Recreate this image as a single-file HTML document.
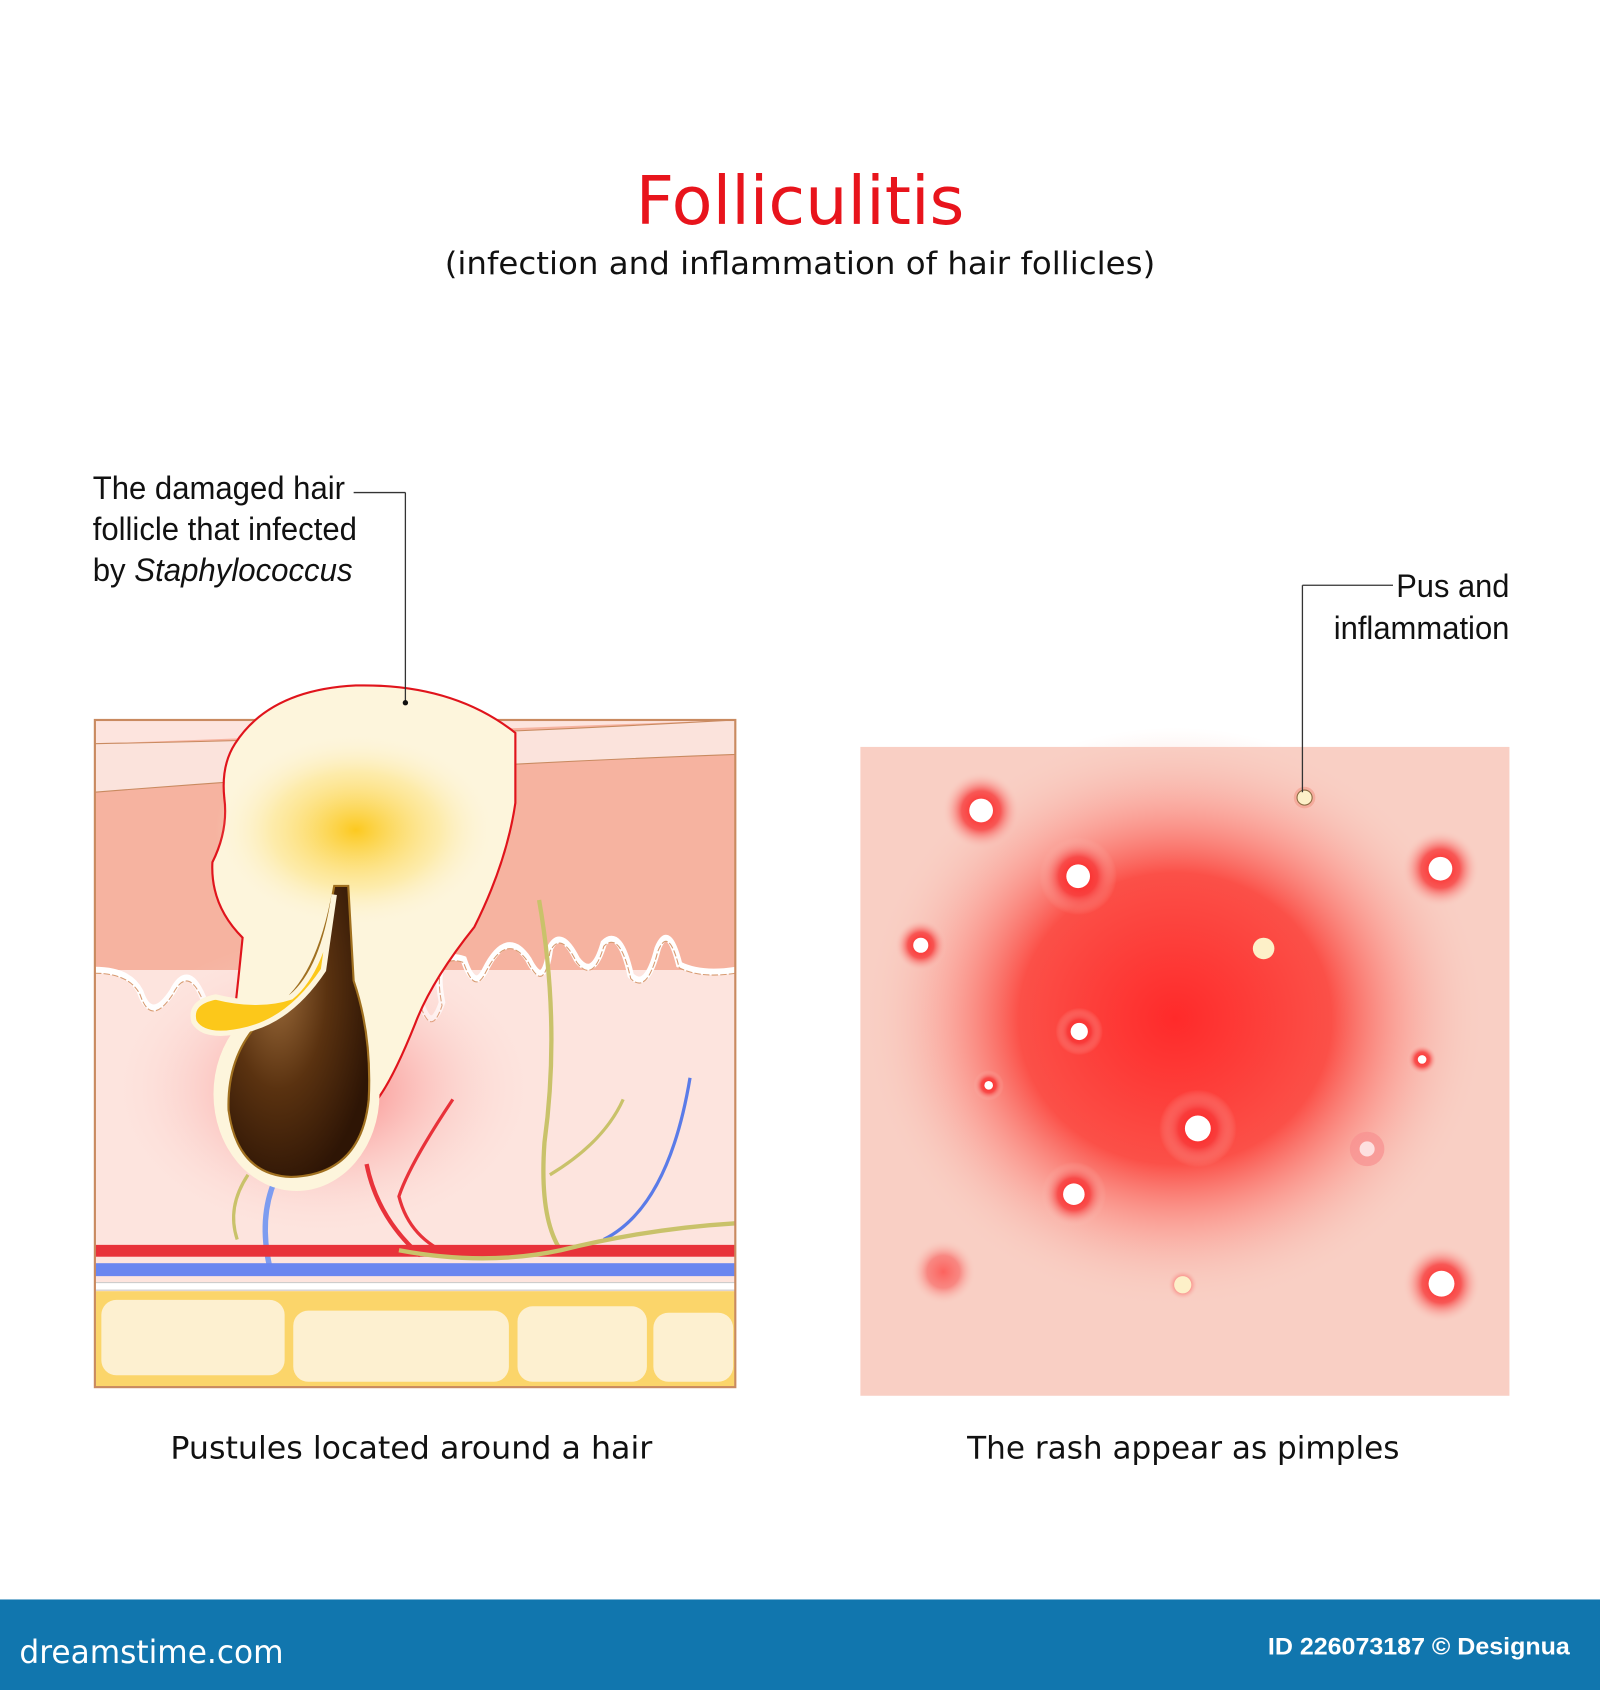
<!DOCTYPE html>
<html><head><meta charset="utf-8"><style>
html,body{margin:0;padding:0;background:#fff;width:1600px;height:1690px;overflow:hidden}
svg{display:block}
</style></head><body>
<svg width="1600" height="1690" viewBox="0 0 1484 1568" preserveAspectRatio="none" xmlns="http://www.w3.org/2000/svg">
<defs>
<radialGradient id="rg" cx="0.5" cy="0.5" r="0.5">
<stop offset="0" stop-color="#ff2a2a"/><stop offset="0.5" stop-color="#fb5048"/><stop offset="1" stop-color="#f9cfc4" stop-opacity="0"/></radialGradient>
<radialGradient id="pim" cx="0.5" cy="0.5" r="0.5">
<stop offset="0" stop-color="#ff1a1a"/><stop offset="0.5" stop-color="#f83a3a" stop-opacity="0.8"/><stop offset="1" stop-color="#f9cfc4" stop-opacity="0"/></radialGradient>
<radialGradient id="yel" cx="0.5" cy="0.5" r="0.5">
<stop offset="0" stop-color="#fcc91f"/><stop offset="0.6" stop-color="#fde58a" stop-opacity="0.6"/><stop offset="1" stop-color="#fdf5dc" stop-opacity="0"/></radialGradient>
<radialGradient id="redglow" cx="0.5" cy="0.5" r="0.5">
<stop offset="0" stop-color="#f76060"/><stop offset="1" stop-color="#fde4de" stop-opacity="0"/></radialGradient>
<radialGradient id="bulb" cx="0.35" cy="0.35" r="0.7">
<stop offset="0" stop-color="#9a6a3a"/><stop offset="0.5" stop-color="#5a3210"/><stop offset="1" stop-color="#2e1505"/></radialGradient>
</defs>

<text x="742" y="208" text-anchor="middle" font-family="DejaVu Sans, sans-serif" font-size="62" fill="#e8141c" textLength="305" lengthAdjust="spacingAndGlyphs">Folliculitis</text>
<text x="742" y="254" text-anchor="middle" font-family="DejaVu Sans, sans-serif" font-size="29" fill="#111" textLength="659" lengthAdjust="spacingAndGlyphs">(infection and inflammation of hair follicles)</text>

<!-- LEFT PANEL -->
<rect x="88" y="668" width="594" height="619" fill="#fde4de"/>
<path d="M88 690 L682 668 L682 900 L88 900 Z" fill="#f6b3a0"/>
<path d="M88 690 Q380 685 682 668 L682 700 Q400 710 88 735 Z" fill="#fbe3dc" stroke="#c98a60" stroke-width="1"/>
<path d="M88 900 Q120 900 130 920 Q140 950 160 920 Q175 890 190 930 Q210 960 230 920 Q250 900 260 920 L390 930 Q400 960 410 930 Q400 880 430 890 Q440 920 450 900 Q470 860 490 890 Q505 920 510 880 Q520 860 535 890 Q550 910 560 875 Q575 860 585 905 Q600 920 610 880 Q620 855 630 895 Q650 905 682 900" fill="none" stroke="#fff" stroke-width="6"/>
<path d="M88 900 Q120 900 130 920 Q140 950 160 920 Q175 890 190 930 Q210 960 230 920 Q250 900 260 920 L390 930 Q400 960 410 930 Q400 880 430 890 Q440 920 450 900 Q470 860 490 890 Q505 920 510 880 Q520 860 535 890 Q550 910 560 875 Q575 860 585 905 Q600 920 610 880 Q620 855 630 895 Q650 905 682 900" fill="none" stroke="#d79a70" stroke-width="1" stroke-dasharray="6 2" transform="translate(0,3)"/>
<ellipse cx="300" cy="1010" rx="200" ry="140" fill="url(#redglow)" opacity="0.8"/>
<path d="M255 1095 Q240 1130 250 1175" fill="none" stroke="#7d9cf0" stroke-width="5"/>
<path d="M230 1090 Q210 1120 220 1150" fill="none" stroke="#c9c26a" stroke-width="3"/>
<path d="M340 1080 Q350 1130 390 1165" fill="none" stroke="#e8323a" stroke-width="4"/>
<path d="M420 1020 Q380 1080 370 1110 Q380 1150 420 1165" fill="none" stroke="#e8323a" stroke-width="3"/>
<path d="M500 835 Q520 950 505 1060 Q500 1130 520 1160" fill="none" stroke="#c9c26a" stroke-width="4"/>
<path d="M578 1020 Q560 1060 510 1090" fill="none" stroke="#c9c26a" stroke-width="3"/>
<path d="M640 1000 Q620 1120 560 1150" fill="none" stroke="#5a7be8" stroke-width="3"/>
<rect x="88" y="1155" width="594" height="11" fill="#e8323a"/>
<rect x="88" y="1172" width="594" height="12" fill="#6a86f0"/>
<path d="M370 1160 Q450 1175 520 1160 Q600 1140 682 1135" fill="none" stroke="#c9c26a" stroke-width="4"/>
<rect x="88" y="1190" width="594" height="7" fill="#fff" stroke="#ccc" stroke-width="1"/>
<rect x="88" y="1198" width="594" height="89" fill="#fbd56a"/>
<rect x="94" y="1206" width="170" height="70" rx="14" fill="#fdf0d0"/>
<rect x="272" y="1216" width="200" height="66" rx="14" fill="#fdf0d0"/>
<rect x="480" y="1212" width="120" height="70" rx="14" fill="#fdf0d0"/>
<rect x="606" y="1218" width="74" height="64" rx="14" fill="#fdf0d0"/>
<rect x="88" y="668" width="594" height="619" fill="none" stroke="#c98a60" stroke-width="2"/>
<!-- pustule -->
<path d="M218 690 Q250 640 330 636 Q420 634 478 680 L478 745 Q470 800 440 860 Q400 910 385 950 Q365 1000 350 1020 L280 1040 L212 990 Q220 920 225 870 Q195 840 197 800 Q212 770 208 740 Q205 710 218 690 Z" fill="#fdf5dc" stroke="#e0141c" stroke-width="2"/>
<ellipse cx="330" cy="770" rx="130" ry="90" fill="url(#yel)"/>
<ellipse cx="275" cy="1015" rx="77" ry="90" fill="#fdf5dc"/>
<path d="M323 822 L310 822 Q295 910 255 935 Q210 970 212 1030 Q220 1090 270 1092 Q335 1090 342 1020 Q345 960 328 910 Z" fill="url(#bulb)" stroke="#a07020" stroke-width="2"/>
<path d="M310 830 Q300 900 270 925 Q240 935 200 925 Q175 930 180 948 Q190 965 230 955 Q270 945 300 900 Z" fill="#fcc81a" stroke="#fdf5dc" stroke-width="5"/>
<line x1="376" y1="652" x2="376" y2="457" stroke="#333" stroke-width="1.2"/>
<line x1="376" y1="457" x2="328" y2="457" stroke="#333" stroke-width="1.2"/>
<circle cx="376" cy="652" r="2.5" fill="#111"/>
<g font-family="Liberation Sans, sans-serif" font-size="30" fill="#111" lengthAdjust="spacingAndGlyphs">
<text x="86" y="463" textLength="234" lengthAdjust="spacingAndGlyphs">The damaged hair</text>
<text x="86" y="501" textLength="245" lengthAdjust="spacingAndGlyphs">follicle that infected</text>
<text x="86" y="539" textLength="241" lengthAdjust="spacingAndGlyphs">by <tspan font-style="italic">Staphylococcus</tspan></text>
<text x="1295" y="554" textLength="105" lengthAdjust="spacingAndGlyphs">Pus and</text>
<text x="1237" y="593" textLength="163" lengthAdjust="spacingAndGlyphs">inflammation</text>
</g>

<!-- RIGHT PANEL -->
<rect x="798" y="693" width="602" height="602" fill="#f9cfc4"/>
<ellipse cx="1090" cy="945" rx="290" ry="270" fill="url(#rg)"/>
<g>
<circle cx="910" cy="752" r="36" fill="url(#pim)"/><circle cx="910" cy="752" r="11" fill="#fff"/>
<circle cx="1000" cy="813" r="36" fill="url(#pim)"/><circle cx="1000" cy="813" r="11" fill="#fff"/>
<circle cx="1336" cy="806" r="36" fill="url(#pim)"/><circle cx="1336" cy="806" r="11" fill="#fff"/>
<circle cx="854" cy="877" r="24" fill="url(#pim)"/><circle cx="854" cy="877" r="7" fill="#fff"/>
<circle cx="1172" cy="880" r="10" fill="#fdf0c8"/>
<circle cx="1001" cy="957" r="22" fill="url(#pim)"/><circle cx="1001" cy="957" r="8" fill="#fff"/>
<circle cx="917" cy="1007" r="14" fill="url(#pim)"/><circle cx="917" cy="1007" r="4" fill="#fff"/>
<circle cx="1319" cy="983" r="14" fill="url(#pim)"/><circle cx="1319" cy="983" r="4" fill="#fff"/>
<circle cx="1111" cy="1047" r="36" fill="url(#pim)"/><circle cx="1111" cy="1047" r="12" fill="#fff"/>
<circle cx="1268" cy="1066" r="16" fill="#f89090" opacity="0.7"/><circle cx="1268" cy="1066" r="7" fill="#fde0e0"/>
<circle cx="996" cy="1108" r="30" fill="url(#pim)"/><circle cx="996" cy="1108" r="10" fill="#fff"/>
<circle cx="875" cy="1180" r="30" fill="url(#pim)" opacity="0.6"/>
<circle cx="1097" cy="1192" r="14" fill="url(#pim)" opacity="0.6"/><circle cx="1097" cy="1192" r="8" fill="#fdf0c8"/>
<circle cx="1337" cy="1191" r="36" fill="url(#pim)"/><circle cx="1337" cy="1191" r="12" fill="#fff"/>
<circle cx="1210" cy="740" r="10" fill="#f4a090" opacity="0.7"/><circle cx="1210" cy="740" r="7" fill="#fdf0c8" stroke="#8a6a40" stroke-width="1"/>
</g>
<line x1="1292" y1="543" x2="1208" y2="543" stroke="#333" stroke-width="1.2"/>
<line x1="1208" y1="543" x2="1208" y2="735" stroke="#333" stroke-width="1.2"/>

<g font-family="DejaVu Sans, sans-serif" font-size="29" fill="#111">
<text x="158" y="1353" textLength="447" lengthAdjust="spacingAndGlyphs">Pustules located around a hair</text>
<text x="897" y="1353" textLength="401" lengthAdjust="spacingAndGlyphs">The rash appear as pimples</text>
</g>

<rect x="0" y="1484" width="1484" height="84" fill="#1176ae"/>
<text x="18" y="1543" font-family="DejaVu Sans, sans-serif" font-size="30" fill="#fff" textLength="245" lengthAdjust="spacingAndGlyphs">dreamstime.com</text>
<text x="1456" y="1535" text-anchor="end" font-family="Liberation Sans, sans-serif" font-weight="bold" font-size="22" fill="#fff" textLength="280" lengthAdjust="spacingAndGlyphs">ID 226073187 © Designua</text>
</svg>
</body></html>
